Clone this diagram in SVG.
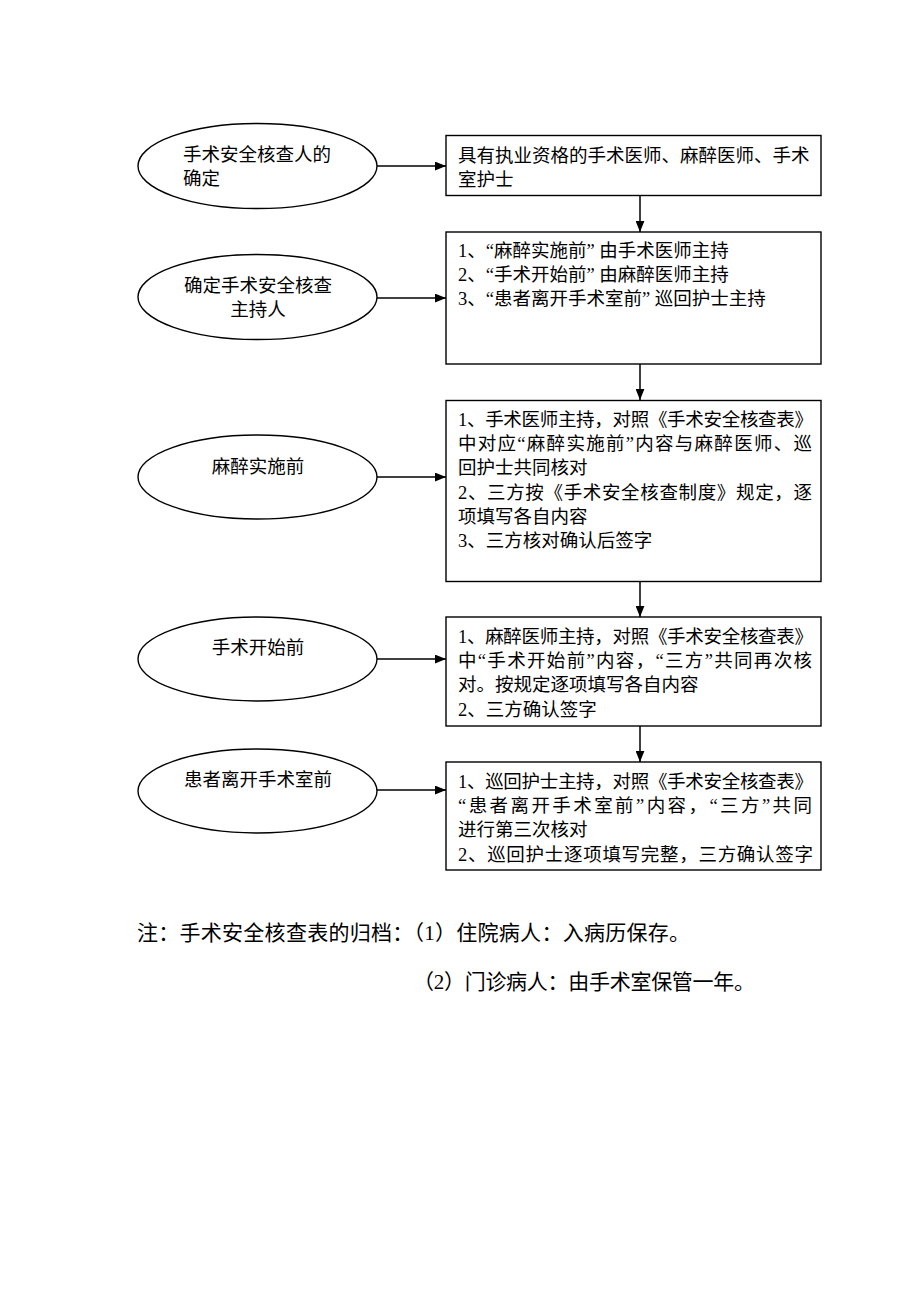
<svg xmlns="http://www.w3.org/2000/svg" width="920" height="1302" viewBox="0 0 920 1302">
<style>
.shape{fill:#fff;stroke:#000;stroke-width:1.4}
.t{font-family:"Liberation Serif","Noto Sans CJK SC",serif;font-size:18.5px;fill:#000}
.note{font-family:"Liberation Serif","Noto Sans CJK SC",serif;font-size:21px;fill:#000}
.c{text-anchor:middle}
.conn{stroke:#000;stroke-width:1.5;fill:none;marker-end:url(#ah)}
</style>
<defs>
<marker id="ah" viewBox="0 0 10 8" refX="10" refY="4" markerWidth="11" markerHeight="9" markerUnits="userSpaceOnUse" orient="auto">
<path d="M0,0 L10,4 L0,8 Z" fill="#000"/>
</marker>
</defs>
<rect width="920" height="1302" fill="#fff"/>

<g id="connectors">
<line class="conn" x1="377" y1="166" x2="446" y2="166"/>
<line class="conn" x1="377" y1="298" x2="446" y2="298"/>
<line class="conn" x1="377" y1="477" x2="446" y2="477"/>
<line class="conn" x1="377" y1="659" x2="446" y2="659"/>
<line class="conn" x1="377" y1="790" x2="446" y2="790"/>
<line class="conn" x1="640" y1="196" x2="640" y2="232"/>
<line class="conn" x1="640" y1="364" x2="640" y2="400"/>
<line class="conn" x1="640" y1="581" x2="640" y2="617"/>
<line class="conn" x1="640" y1="726" x2="640" y2="762"/>
</g>

<g id="e1">
<ellipse class="shape" cx="257.5" cy="166" rx="119.5" ry="42.5"/>
<text class="t" x="183" y="160.5">手术安全核查人的</text>
<text class="t" x="183" y="184.5">确定</text>
</g>
<g id="b1">
<rect class="shape" x="446" y="135.5" width="375" height="60"/>
<text class="t" x="458" y="161.5">具有执业资格的手术医师、麻醉医师、手术</text>
<text class="t" x="458" y="186">室护士</text>
</g>

<g id="e2">
<ellipse class="shape" cx="257.5" cy="297" rx="119.5" ry="42.5"/>
<text class="t c" x="258" y="292">确定手术安全核查</text>
<text class="t c" x="258" y="316">主持人</text>
</g>
<g id="b2">
<rect class="shape" x="446" y="232" width="375" height="132"/>
<text class="t" x="458" y="257">1、“麻醉实施前” 由手术医师主持</text>
<text class="t" x="458" y="281">2、“手术开始前” 由麻醉医师主持</text>
<text class="t" x="458" y="305">3、“患者离开手术室前” 巡回护士主持</text>
</g>

<g id="e3">
<ellipse class="shape" cx="257.5" cy="477" rx="119.5" ry="42"/>
<text class="t c" x="258" y="473">麻醉实施前</text>
</g>
<g id="b3">
<rect class="shape" x="446" y="400.5" width="375" height="181"/>
<text class="t" x="458" y="426" textLength="355" lengthAdjust="spacing">1、手术医师主持，对照《手术安全核查表》</text>
<text class="t" x="458" y="450" textLength="354" lengthAdjust="spacing">中对应“麻醉实施前”内容与麻醉医师、巡</text>
<text class="t" x="458" y="474">回护士共同核对</text>
<text class="t" x="458" y="498.5" textLength="354" lengthAdjust="spacing">2、三方按《手术安全核查制度》规定，逐</text>
<text class="t" x="458" y="522.5">项填写各自内容</text>
<text class="t" x="458" y="546.5">3、三方核对确认后签字</text>
</g>

<g id="e4">
<ellipse class="shape" cx="257.5" cy="659" rx="119.5" ry="42"/>
<text class="t c" x="258" y="654">手术开始前</text>
</g>
<g id="b4">
<rect class="shape" x="446" y="617" width="375" height="109"/>
<text class="t" x="458" y="643" textLength="355" lengthAdjust="spacing">1、麻醉医师主持，对照《手术安全核查表》</text>
<text class="t" x="458" y="667" textLength="354" lengthAdjust="spacing">中“手术开始前”内容，“三方”共同再次核</text>
<text class="t" x="458" y="691">对。按规定逐项填写各自内容</text>
<text class="t" x="458" y="716">2、三方确认签字</text>
</g>

<g id="e5">
<ellipse class="shape" cx="257.5" cy="791" rx="119.5" ry="42"/>
<text class="t c" x="258" y="786">患者离开手术室前</text>
</g>
<g id="b5">
<rect class="shape" x="446" y="762" width="375" height="108"/>
<text class="t" x="458" y="788" textLength="355" lengthAdjust="spacing">1、巡回护士主持，对照《手术安全核查表》</text>
<text class="t" x="458" y="812" textLength="354" lengthAdjust="spacing">“患者离开手术室前”内容，“三方”共同</text>
<text class="t" x="458" y="836">进行第三次核对</text>
<text class="t" x="458" y="861" textLength="355" lengthAdjust="spacing">2、巡回护士逐项填写完整，三方确认签字</text>
</g>

<g id="note">
<text class="note" x="137" y="940" textLength="553" lengthAdjust="spacing">注：手术安全核查表的归档：（1）住院病人：入病历保存。</text>
<text class="note" x="413" y="989" textLength="342" lengthAdjust="spacing">（2）门诊病人：由手术室保管一年。</text>
</g>
</svg>
